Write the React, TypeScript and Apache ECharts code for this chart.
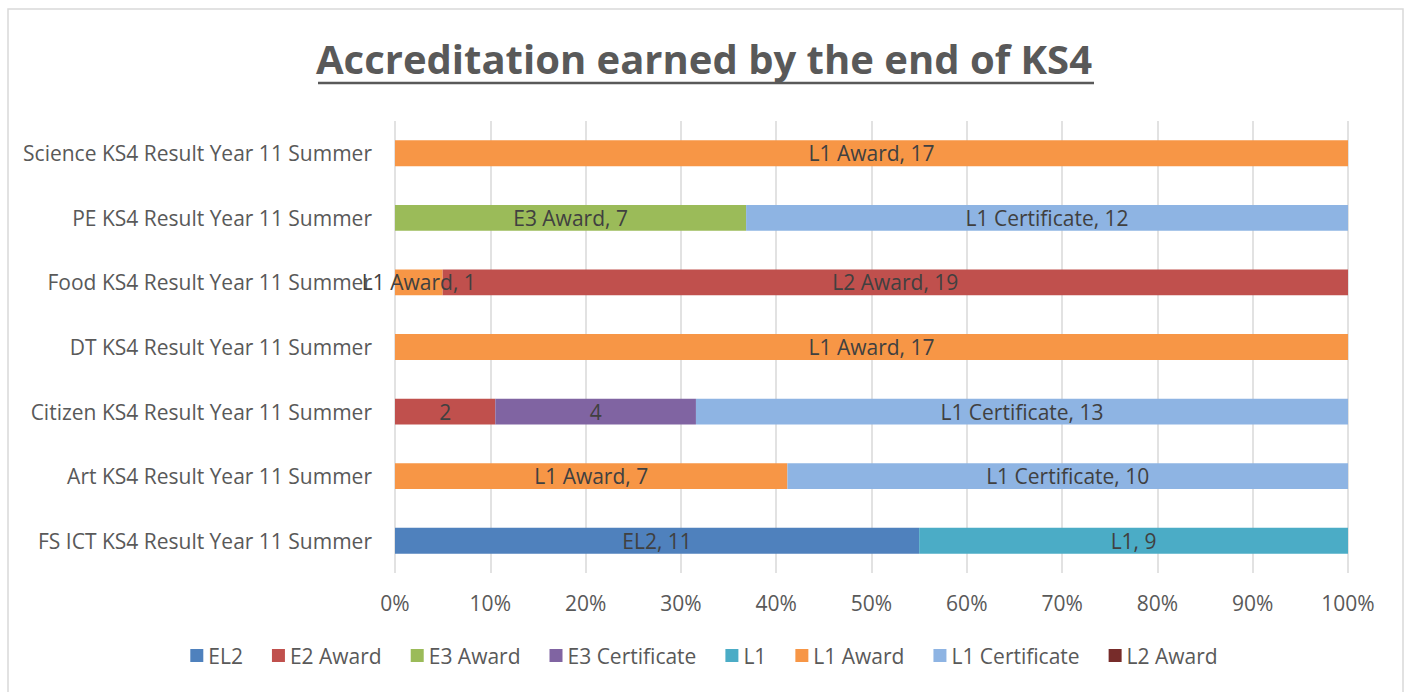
import React, { useEffect, useRef } from "react";
import * as echarts from "echarts";

const categories = [
  "FS ICT KS4 Result Year 11 Summer",
  "Art KS4 Result Year 11 Summer",
  "Citizen KS4 Result Year 11 Summer",
  "DT KS4 Result Year 11 Summer",
  "Food KS4 Result Year 11 Summer",
  "PE KS4 Result Year 11 Summer",
  "Science KS4 Result Year 11 Summer",
];

const seriesNames = ["EL2", "E2 Award", "E3 Award", "E3 Certificate", "L1", "L1 Award", "L1 Certificate", "L2 Award"];
const seriesColors = ["#4F81BD", "#C0504D", "#9BBB59", "#8064A2", "#4BACC6", "#F79646", "#8EB4E3", "#772C2A"];

// counts per series, in category order (null = none)
const el2 = [11, null, null, null, null, null, null];
const e2Award = [null, null, 2, null, null, null, null];
const e3Award = [null, null, null, null, null, 7, null];
const e3Certificate = [null, null, 4, null, null, null, null];
const l1 = [9, null, null, null, null, null, null];
const l1Award = [null, 7, null, 17, 1, null, 17];
const l1Certificate = [null, 10, 13, null, null, 12, null];
const l2Award = [null, null, null, null, 19, null, null];

const seriesValues = [el2, e2Award, e3Award, e3Certificate, l1, l1Award, l1Certificate, l2Award];

// labels that show only the value (Citizen row)
const valueOnlyLabels = [
  ["E2 Award", 2],
  ["E3 Certificate", 2],
];
// point colour overrides: [series, category index, colour]
const pointColors: [string, number, string][] = [["L2 Award", 4, "#C0504D"]];

const xTicks = [0, 10, 20, 30, 40, 50, 60, 70, 80, 90, 100];

export default function App() {
  const ref = useRef<HTMLDivElement>(null);
  useEffect(() => {
    document.body.style.margin = "0";
    const chart = echarts.init(ref.current!, null, { renderer: "svg" });
    const totals = categories.map((_, ci) =>
      seriesValues.reduce((s, arr) => s + (arr[ci] ?? 0), 0)
    );
    const font = "'Open Sans', sans-serif";
    const series = seriesNames.map((name, si) => ({
      name,
      type: "bar",
      stack: "total",
      barWidth: "40%",
      itemStyle: { color: seriesColors[si] },
      label: {
        show: true,
        position: "inside",
        color: "#404040",
        fontSize: 21,
        fontFamily: font,
        formatter: (p: any) => {
          const raw = seriesValues[si][p.dataIndex];
          const valueOnly = valueOnlyLabels.some((v) => v[0] === name && v[1] === p.dataIndex);
          return valueOnly ? `${raw}` : `${name}, ${raw}`;
        },
      },
      data: seriesValues[si].map((v, ci) => {
        if (v == null) return null;
        const val = (v / totals[ci]) * 100;
        const pc = pointColors.find((p) => p[0] === name && p[1] === ci);
        return pc ? { value: val, itemStyle: { color: pc[2] } } : val;
      }),
    }));
    chart.setOption({
      animation: false,
      title: {
        text: "Accreditation earned by the end of KS4",
        left: "center",
        top: 33,
        textStyle: { fontSize: 40, fontWeight: "bold", color: "#595959", fontFamily: font },
      },
      legend: {
        bottom: 21,
        left: "center",
        itemWidth: 13,
        itemHeight: 13,
        itemGap: 29,
        icon: "rect",
        textStyle: { fontSize: 21, color: "#595959", fontFamily: font },
        data: seriesNames,
      },
      grid: { left: 395, right: 60, top: 121, bottom: 119 },
      xAxis: {
        type: "value",
        min: xTicks[0],
        max: xTicks[xTicks.length - 1],
        interval: 10,
        axisLine: { show: false },
        axisTick: { show: false },
        splitLine: { lineStyle: { color: "#D9D9D9", width: 1.5 } },
        axisLabel: { formatter: "{value}%", fontSize: 21, color: "#595959", margin: 19, fontFamily: font },
      },
      yAxis: {
        type: "category",
        data: categories,
        axisLine: { show: false },
        axisTick: { show: false },
        axisLabel: { fontSize: 21, color: "#595959", margin: 23, fontFamily: font },
      },
      graphic: [
        {
          type: "rect",
          shape: { x: 8, y: 9, width: 1395, height: 700 },
          style: { fill: "none", stroke: "#D9D9D9", lineWidth: 1.5 },
          silent: true,
        },
        {
          type: "line",
          shape: { x1: 318, y1: 83, x2: 1094, y2: 83 },
          style: { stroke: "#595959", lineWidth: 2.5 },
        },
      ],
      series,
    });
    return () => chart.dispose();
  }, []);
  return <div ref={ref} style={{ width: 1408, height: 692 }} />;
}
